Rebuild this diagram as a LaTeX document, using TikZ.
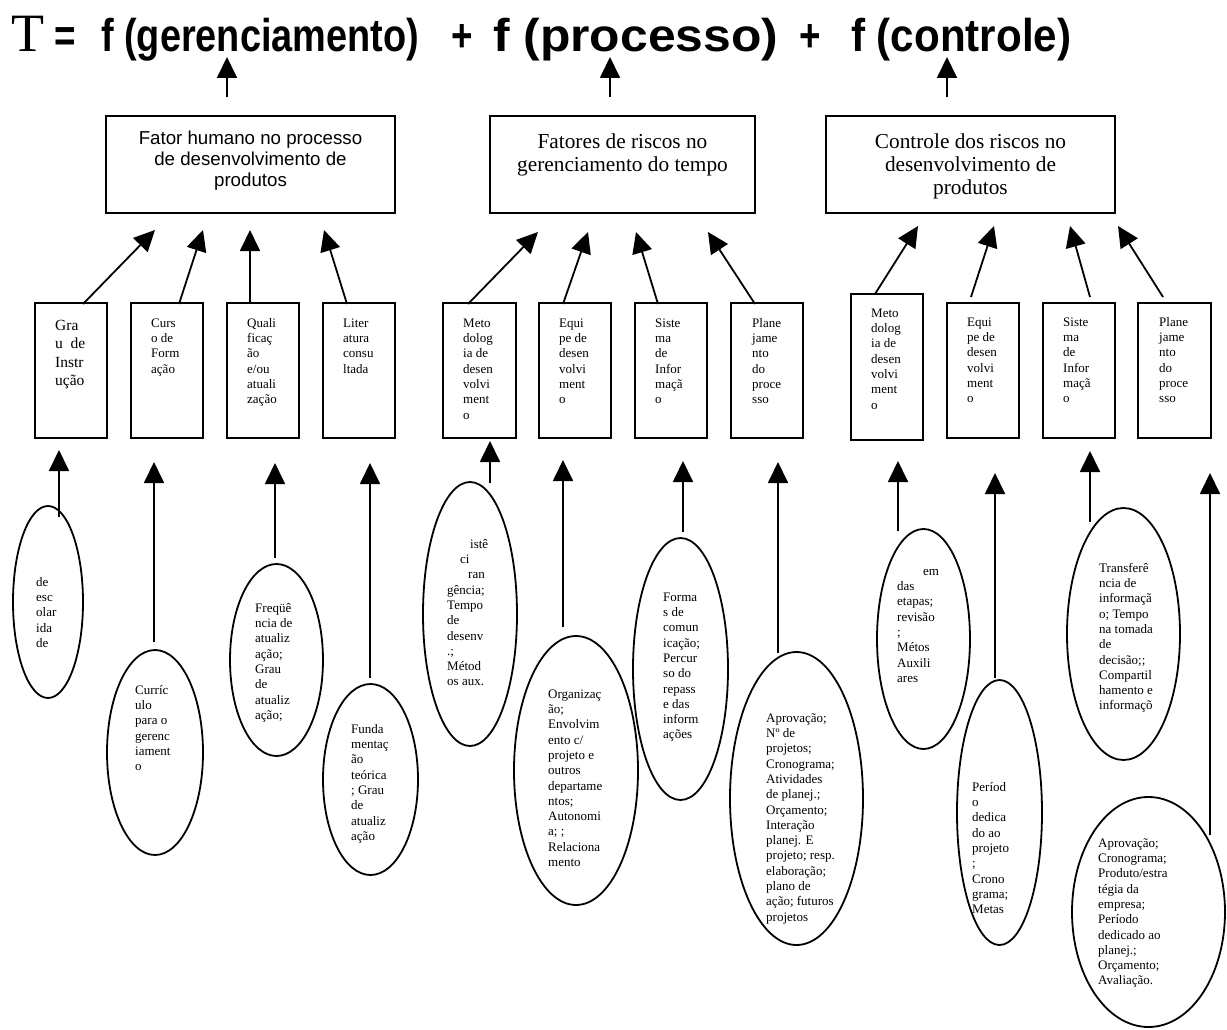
\documentclass[tikz,border=0pt]{standalone}
\usepackage{fontspec}
\usepackage{graphicx}
\setmainfont{Liberation Serif}
\newfontfamily\sansfont{Liberation Sans}
\usetikzlibrary{arrows.meta,shapes.geometric}

\tikzset{
  link/.style={line width=1.8pt, -{Triangle[width=20pt,length=21pt]}},
  bigbox/.style={draw, rectangle, line width=1.8pt, minimum height=97pt, inner sep=0pt},
  smallbox/.style={draw, rectangle, line width=1.8pt, minimum width=72pt, minimum height=135pt, inner sep=0pt},
  oval/.style={draw, ellipse, line width=1.8pt, inner sep=0pt},
  boxtext/.style={anchor=north west, inner sep=0pt, align=left, font=\fontsize{13}{15.3}\selectfont},
  headsans/.style={anchor=north, inner sep=0pt, align=center, font=\sansfont\fontsize{18.7}{21}\selectfont},
  headserif/.style={anchor=north, inner sep=0pt, align=center, font=\fontsize{21.3}{23}\selectfont},
  titlepart/.style={anchor=base west, inner sep=0pt, font=\sansfont\bfseries\fontsize{46}{46}\selectfont},
}

\begin{document}
\begin{tikzpicture}[x=1pt,y=-1pt]
\useasboundingbox (0,0) rectangle (1227,1030);
\fill[white] (0,0) rectangle (1227,1030);

% ---- equation ----
\node[titlepart] (tT) at (11,52) {\rmfamily\mdseries\fontsize{54}{54}\selectfont T};
\node[titlepart] (tEq) at (54,52) {\scalebox{0.8}[1]{=}};
\node[titlepart] (tG) at (101,52) {\resizebox{318pt}{\height}{f (gerenciamento)}};
\node[titlepart] (tPlusA) at (451,52) {\scalebox{0.8}[1]{+}};
\node[titlepart] (tP) at (493,52) {\resizebox{285pt}{\height}{f (processo)}};
\node[titlepart] (tPlusB) at (799,52) {\scalebox{0.8}[1]{+}};
\node[titlepart] (tC) at (851,52) {\resizebox{220pt}{\height}{f (controle)}};

% ---- main factors ----
\node[bigbox, minimum width=289pt] (b1) at (250.5,164.5) {};
\node[bigbox, minimum width=265pt] (b2) at (622.5,164.5) {};
\node[bigbox, minimum width=289pt] (b3) at (970.5,164.5) {};
\node[headsans] (b1t) at (250.5,129.3) {\strut Fator humano no processo\\de desenvolvimento de\\produtos};
\node[headserif] (b2t) at (622.5,131.9) {\strut Fatores de riscos no\\gerenciamento do tempo};
\node[headserif] (b3t) at (970.5,131.9) {\strut Controle dos riscos no\\desenvolvimento de\\produtos};

\coordinate (u1s) at (227,97);  \coordinate (u1e) at (227,57);
\coordinate (u2s) at (610,97);  \coordinate (u2e) at (610,57);
\coordinate (u3s) at (947,97);  \coordinate (u3e) at (947,57);
\draw[link] (u1s) -- (u1e);
\draw[link] (u2s) -- (u2e);
\draw[link] (u3s) -- (u3e);

% ---- sub-factors ----
\node[smallbox] (sb1) at (71,370.5) {};
\node[smallbox] (sb2) at (167,370.5) {};
\node[smallbox] (sb3) at (263,370.5) {};
\node[smallbox] (sb4) at (359,370.5) {};
\node[smallbox, minimum width=73pt] (sb5) at (479.5,370.5) {};
\node[smallbox] (sb6) at (575,370.5) {};
\node[smallbox] (sb7) at (671,370.5) {};
\node[smallbox] (sb8) at (767,370.5) {};
\node[smallbox, minimum height=146pt] (sb9) at (887,367) {};
\node[smallbox] (sb10) at (983,370.5) {};
\node[smallbox] (sb11) at (1079,370.5) {};
\node[smallbox, minimum width=73pt] (sb12) at (1174.5,370.5) {};

\node[boxtext, font=\fontsize{15.5}{18.3}\selectfont] (sb1t) at (55,317.5) {\strut Gra\\u~ de\\Instr\\ução};
\node[boxtext] (sb2t) at (151,316.3) {\strut Curs\\o de\\Form\\ação};
\node[boxtext] (sb3t) at (247,316.3) {\strut Quali\\ficaç\\ão\\e/ou\\atuali\\zação};
\node[boxtext] (sb4t) at (343,316.3) {\strut Liter\\atura\\consu\\ltada};
\node[boxtext] (sb5t) at (463,316.3) {\strut Meto\\dolog\\ia de\\desen\\volvi\\ment\\o};
\node[boxtext] (sb6t) at (559,316.3) {\strut Equi\\pe de\\desen\\volvi\\ment\\o};
\node[boxtext] (sb7t) at (655,316.3) {\strut Siste\\ma\\de\\Infor\\maçã\\o};
\node[boxtext] (sb8t) at (752,316.3) {\strut Plane\\jame\\nto\\do\\proce\\sso};
\node[boxtext] (sb9t) at (871,306.3) {\strut Meto\\dolog\\ia de\\desen\\volvi\\ment\\o};
\node[boxtext] (sb10t) at (967,315.3) {\strut Equi\\pe de\\desen\\volvi\\ment\\o};
\node[boxtext] (sb11t) at (1063,315.3) {\strut Siste\\ma\\de\\Infor\\maçã\\o};
\node[boxtext] (sb12t) at (1159,315.3) {\strut Plane\\jame\\nto\\do\\proce\\sso};

% sub-factor -> factor connectors
\coordinate (d1s) at (83,304);    \coordinate (d1e) at (155,230);
\coordinate (d2s) at (179,304);   \coordinate (d2e) at (203,230);
\coordinate (d3s) at (250,304);   \coordinate (d3e) at (250,230);
\coordinate (d4s) at (347,304);   \coordinate (d4e) at (324,230);
\coordinate (d5s) at (468,304);   \coordinate (d5e) at (538,232);
\coordinate (d6s) at (563,304);   \coordinate (d6e) at (588,232);
\coordinate (d7s) at (658,304);   \coordinate (d7e) at (636,232);
\coordinate (d8s) at (755,304);   \coordinate (d8e) at (708,232);
\coordinate (d9s) at (875,294);   \coordinate (d9e) at (918,226);
\coordinate (d10s) at (971,297);  \coordinate (d10e) at (994,226);
\coordinate (d11s) at (1090,297); \coordinate (d11e) at (1070,226);
\coordinate (d12s) at (1163,297); \coordinate (d12e) at (1118,226);
\foreach \k in {1,...,12} {\draw[link] (d\k s) -- (d\k e);}

% ---- indicators ----
\node[oval, minimum width=70pt, minimum height=192pt] (e1) at (48,602) {};
\node[oval, minimum width=96pt, minimum height=205pt] (e2) at (155,752.5) {};
\node[oval, minimum width=93pt, minimum height=192pt] (e3) at (276.5,660) {};
\node[oval, minimum width=95pt, minimum height=191pt] (e4) at (370.5,779.5) {};
\node[oval, minimum width=94pt, minimum height=264pt] (e5) at (470,614) {};
\node[oval, minimum width=124pt, minimum height=269pt] (e6) at (576,770.5) {};
\node[oval, minimum width=95pt, minimum height=262pt] (e7) at (680.5,669) {};
\node[oval, minimum width=133pt, minimum height=293pt] (e8) at (796.5,798.5) {};
\node[oval, minimum width=93pt, minimum height=220pt] (e9) at (923.5,639) {};
\node[oval, minimum width=85pt, minimum height=265pt] (e10) at (999.5,812.5) {};
\node[oval, minimum width=113pt, minimum height=252pt] (e11) at (1123.5,634) {};
\node[oval, minimum width=153pt, minimum height=230pt] (e12) at (1148.5,912) {};

\node[boxtext] (e1t) at (36,575.3) {\strut de\\esc\\olar\\ida\\de};
\node[boxtext] (e2t) at (135,683.3) {\strut Curríc\\ulo\\para o\\gerenc\\iament\\o};
\node[boxtext] (e3t) at (255,601.3) {\strut Freqüê\\ncia de\\atualiz\\ação;\\Grau\\de\\atualiz\\ação;};
\node[boxtext] (e4t) at (351,722.3) {\strut Funda\\mentaç\\ão\\teórica\\; Grau\\de\\atualiz\\ação};
\node[boxtext] (e5t) at (447,537.3) {\strut\hspace*{23pt}istê\\\hspace*{13pt}ci\\\hspace*{21pt}ran\\gência;\\Tempo\\de\\desenv\\.;\\Métod\\os aux.};
\node[boxtext] (e6t) at (548,687.3) {\strut Organizaç\\ão;\\Envolvim\\ento c/\\projeto e\\outros\\departame\\ntos;\\Autonomi\\a; ;\\Relaciona\\mento};
\node[boxtext] (e7t) at (663,590.3) {\strut Forma\\s de\\comun\\icação;\\Percur\\so do\\repass\\e das\\inform\\ações};
\node[boxtext] (e8t) at (766,711.3) {\strut Aprovação;\\Nº de\\projetos;\\Cronograma;\\Atividades\\de planej.;\\Orçamento;\\Interação\\planej. E\\projeto; resp.\\elaboração;\\plano de\\ação; futuros\\projetos};
\node[boxtext] (e9t) at (897,564.3) {\strut\hspace*{26pt}em\\das\\etapas;\\revisão\\;\\Métos\\Auxili\\ares};
\node[boxtext] (e10t) at (972,780.3) {\strut Períod\\o\\dedica\\do ao\\projeto\\;\\Crono\\grama;\\Metas};
\node[boxtext] (e11t) at (1099,561.3) {\strut Transferê\\ncia de\\informaçã\\o; Tempo\\na tomada\\de\\decisão;;\\Compartil\\hamento e\\informaçõ};
\node[boxtext] (e12t) at (1098,836.3) {\strut Aprovação;\\Cronograma;\\Produto/estra\\tégia da\\empresa;\\Período\\dedicado ao\\planej.;\\Orçamento;\\Avaliação.};

% indicator -> sub-factor connectors
\coordinate (v1s) at (59,517);    \coordinate (v1e) at (59,450);
\coordinate (v2s) at (154,642);   \coordinate (v2e) at (154,462);
\coordinate (v3s) at (275,558);   \coordinate (v3e) at (275,463);
\coordinate (v4s) at (370,678);   \coordinate (v4e) at (370,463);
\coordinate (v5s) at (490,483);   \coordinate (v5e) at (490,441);
\coordinate (v6s) at (563,627);   \coordinate (v6e) at (563,460);
\coordinate (v7s) at (683,532);   \coordinate (v7e) at (683,461);
\coordinate (v8s) at (778,653);   \coordinate (v8e) at (778,462);
\coordinate (v9s) at (898,531);   \coordinate (v9e) at (898,461);
\coordinate (v10s) at (995,678);  \coordinate (v10e) at (995,473);
\coordinate (v11s) at (1090,522); \coordinate (v11e) at (1090,451);
\coordinate (v12s) at (1210,835); \coordinate (v12e) at (1210,473);
\foreach \k in {1,...,12} {\draw[link] (v\k s) -- (v\k e);}
\end{tikzpicture}
\end{document}
